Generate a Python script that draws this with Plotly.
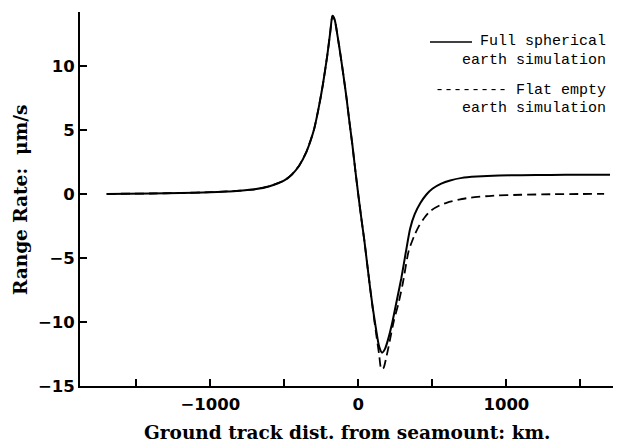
import plotly.graph_objects as go

# Ground track distance from seamount (km) and range rate (um/s)
x_full = [-1700, -1400, -1200, -1000, -900, -800, -700, -600, -500, -450, -400, -350,
          -300, -270, -240, -210, -190, -175, -160, -140, -120, -100, -80, -60, -40,
          -20, 0, 20, 40, 60, 80, 100, 120, 140, 160, 180, 200, 230, 260, 290, 320,
          350, 380, 420, 460, 500, 560, 620, 700, 800, 950, 1100, 1300, 1500, 1700]
y_full = [0.0, 0.03, 0.07, 0.13, 0.18, 0.25, 0.36, 0.6, 1.05, 1.5, 2.2, 3.3,
          5.0, 6.6, 8.5, 10.8, 12.6, 13.9, 13.6, 12.3, 10.8, 9.2, 7.5, 5.6, 3.8,
          1.8, -0.1, -1.9, -3.6, -5.5, -7.4, -9.1, -10.6, -11.9, -12.4, -12.1, -11.4,
          -10.0, -8.3, -6.6, -4.6, -2.7, -1.6, -0.7, -0.05, 0.4, 0.8, 1.05, 1.25,
          1.35, 1.43, 1.46, 1.48, 1.5, 1.5]

x_flat = [-1700, -1400, -1200, -1000, -900, -800, -700, -600, -500, -450, -400, -350,
          -300, -270, -240, -210, -190, -175, -160, -140, -120, -100, -80, -60, -40,
          -20, 0, 20, 40, 60, 80, 100, 120, 140, 155, 170, 190, 210, 240, 270, 300,
          340, 380, 410, 450, 490, 550, 600, 700, 760, 900, 1100, 1300, 1500, 1660]
y_flat = [0.0, 0.03, 0.07, 0.13, 0.18, 0.25, 0.36, 0.6, 1.05, 1.5, 2.2, 3.3,
          5.0, 6.6, 8.5, 10.8, 12.6, 13.9, 13.6, 12.3, 10.8, 9.2, 7.5, 5.6, 3.8,
          1.8, -0.1, -1.9, -3.6, -5.5, -7.4, -9.2, -10.9, -12.5, -13.7, -13.6, -12.7,
          -11.6, -9.9, -8.6, -7.0, -4.45, -3.2, -2.5, -1.8, -1.3, -0.9, -0.68, -0.4,
          -0.29, -0.15, -0.07, -0.03, -0.01, 0.0]

x_tickvals = [-1500, -1000, -500, 0, 500, 1000, 1500]
x_ticktext = ["", "\u22121000", "", "0", "", "1000", ""]
y_tickvals = [-15, -10, -5, 0, 5, 10]

fig = go.Figure()
fig.add_trace(go.Scatter(x=x_full, y=y_full, mode="lines", line=dict(color="black", width=2, shape="spline", smoothing=0.6)))
fig.add_trace(go.Scatter(x=x_flat, y=y_flat, mode="lines", line=dict(color="black", width=1.8, dash="9px,5px", shape="spline", smoothing=0.6)))

tickfont = dict(family="DejaVu Sans", size=16.5, color="black", weight="bold")
fig.update_xaxes(range=[-1880, 1720], tickvals=x_tickvals, ticktext=x_ticktext,
                 ticks="inside", ticklen=7, tickwidth=1.5, tickcolor="black",
                 showline=True, linecolor="black", linewidth=2, showgrid=False,
                 zeroline=False, tickfont=tickfont, ticklabelstandoff=2)
fig.update_yaxes(range=[-15, 14.2], tickvals=y_tickvals,
                 ticks="inside", ticklen=7, tickwidth=1.5, tickcolor="black",
                 showline=True, linecolor="black", linewidth=2, showgrid=False,
                 zeroline=False, tickfont=tickfont, ticklabelstandoff=0)

mono = dict(family="Liberation Mono", size=15, color="black")
title_font = dict(family="DejaVu Serif", size=18.5, color="black", weight="bold")
annotations = [
    dict(x=0.99, y=0.920, text="Full spherical", font=mono),
    dict(x=0.99, y=0.869, text="earth simulation", font=mono),
    dict(x=0.99, y=0.791, text="-------- Flat empty", font=mono),
    dict(x=0.99, y=0.743, text="earth simulation", font=mono),
]
for a in annotations:
    a.update(xref="paper", yref="paper", xanchor="right", yanchor="middle", showarrow=False)
annotations.append(dict(x=0.5, y=-0.125, xref="paper", yref="paper", text="Ground track dist. from seamount: km.",
                        showarrow=False, font=title_font, xanchor="center", yanchor="middle"))
annotations.append(dict(x=-0.1126, y=0.497, xref="paper", yref="paper", text="Range Rate:  \u03bcm/s",
                        showarrow=False, font=title_font, textangle=-90, xanchor="center", yanchor="middle"))

fig.update_layout(
    width=620, height=443, margin=dict(l=80, r=7, t=12, b=57),
    paper_bgcolor="white", plot_bgcolor="white", showlegend=False,
    annotations=annotations,
    shapes=[dict(type="line", xref="paper", yref="paper", x0=(430 - 80) / 533, x1=(472 - 80) / 533,
                 y0=0.920, y1=0.920, line=dict(color="black", width=1.5))],
)
fig.write_html("out.html")
